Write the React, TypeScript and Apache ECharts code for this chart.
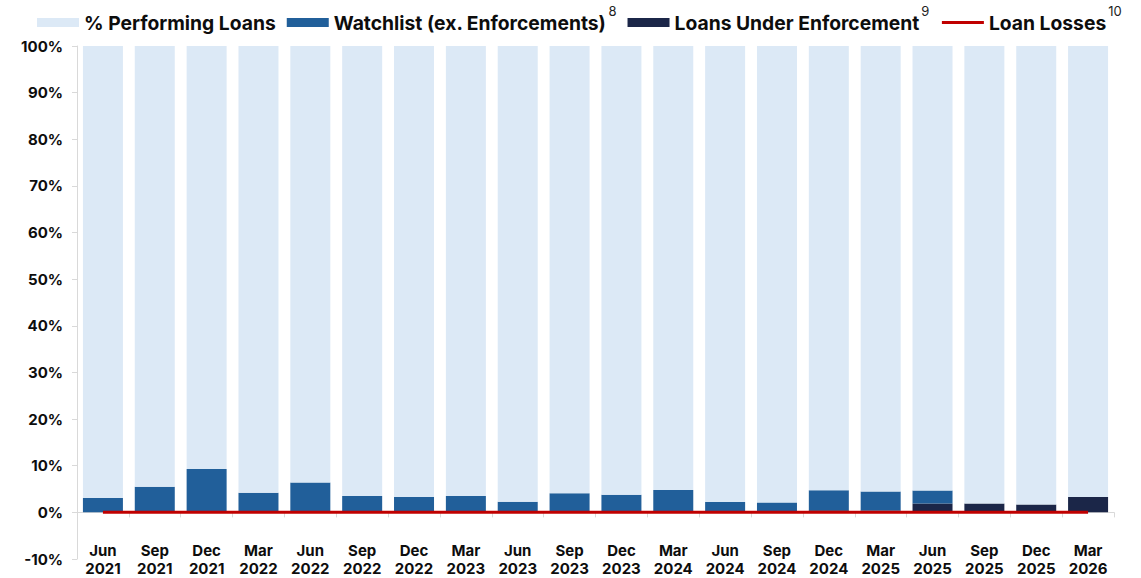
import React, { useEffect, useRef } from "react";
import * as echarts from "echarts";

const categories = [
  "Jun\n2021", "Sep\n2021", "Dec\n2021", "Mar\n2022", "Jun\n2022", "Sep\n2022", "Dec\n2022",
  "Mar\n2023", "Jun\n2023", "Sep\n2023", "Dec\n2023", "Mar\n2024", "Jun\n2024", "Sep\n2024",
  "Dec\n2024", "Mar\n2025", "Jun\n2025", "Sep\n2025", "Dec\n2025", "Mar\n2026",
];
const watchlist = [3.1, 5.5, 9.3, 4.2, 6.4, 3.5, 3.3, 3.5, 2.3, 4.1, 3.8, 4.8, 2.2, 2.1, 4.3, 4.1, 2.8, 0, 0, 0];
const enforcement = [0, 0, 0, 0, 0, 0, 0, 0, 0, 0, 0, 0, 0, 0, 0.45, 0.4, 1.9, 1.9, 1.7, 3.3];
const performing = watchlist.map((w, i) => +(100 - w - enforcement[i]).toFixed(2));
const loanLosses = [0, 0, 0, 0, 0, 0, 0, 0, 0, 0, 0, 0, 0, 0, 0, 0, 0, 0, 0, 0];
const yTicks = { min: -10, max: 100, interval: 10 };

const names = {
  perf: "% Performing Loans",
  watch: "Watchlist (ex. Enforcements)",
  enf: "Loans Under Enforcement",
  loss: "Loan Losses",
};
const sups: Record<string, string> = {
  [names.watch]: "8",
  [names.enf]: "9",
  [names.loss]: "10",
};

const FONT = "Inter, 'Open Sans', sans-serif";

export default function App() {
  const ref = useRef<HTMLDivElement>(null);
  useEffect(() => {
    if (!ref.current) return;
    const chart = echarts.init(ref.current, null, { renderer: "svg" });
    chart.setOption({
      animation: false,
      textStyle: { fontFamily: FONT },
      legend: {
        top: -1,
        left: 32,
        width: 1130,
        itemGap: 11,
        itemWidth: 42,
        itemHeight: 9,
        data: [
          { name: names.perf, icon: "rect" },
          { name: names.watch, icon: "rect" },
          { name: names.enf, icon: "rect" },
          { name: names.loss, itemStyle: { opacity: 0 }, lineStyle: { width: 3, color: "#c00000" } },
        ],
        formatter: (name: string) =>
          sups[name] ? `{n|${name}}{s|${sups[name]}}` : `{p|${name}}`,
        textStyle: {
          fontFamily: FONT,
          rich: {
            n: { fontSize: 19.3, fontWeight: "bold", color: "#0d0d0d", fontFamily: FONT },
            p: { fontSize: 19.3, fontWeight: "bold", color: "#0d0d0d", fontFamily: FONT, padding: [0, 6, 0, 0] },
            s: { fontSize: 13, fontWeight: "normal", color: "#222", fontFamily: FONT, padding: [0, 0, 24, 2] },
          },
        },
      },
      grid: { left: 77, right: 27, top: 46, bottom: 19, containLabel: false },
      xAxis: [
        {
          type: "category",
          data: categories,
          position: "bottom",
          axisLine: { show: false, onZero: false },
          axisTick: { show: false },
          axisLabel: {
            margin: -18,
            fontSize: 15,
            lineHeight: 18,
            fontWeight: "bold",
            color: "#0d0d0d",
            fontFamily: FONT,
            interval: 0,
          },
        },
        {
          type: "category",
          data: categories,
          position: "bottom",
          axisLine: { show: true, onZero: true, lineStyle: { color: "#d9d9d9", width: 1 } },
          axisTick: { show: true, length: 5, alignWithLabel: false, lineStyle: { color: "#d9d9d9" } },
          axisLabel: { show: false },
        },
      ],
      yAxis: {
        type: "value",
        min: yTicks.min,
        max: yTicks.max,
        interval: yTicks.interval,
        splitLine: { show: false },
        axisLine: { show: true, lineStyle: { color: "#d9d9d9" } },
        axisTick: { show: true, length: 5, lineStyle: { color: "#d9d9d9" } },
        axisLabel: {
          formatter: "{value}%",
          fontSize: 15,
          fontWeight: "bold",
          color: "#0d0d0d",
          margin: 14,
          fontFamily: FONT,
        },
      },
      series: [
        {
          name: names.enf,
          type: "bar",
          stack: "total",
          barWidth: 40,
          data: enforcement,
          itemStyle: { color: "#1b2648" },
        },
        {
          name: names.watch,
          type: "bar",
          stack: "total",
          barWidth: 40,
          data: watchlist,
          itemStyle: { color: "#215f9a" },
        },
        {
          name: names.perf,
          type: "bar",
          stack: "total",
          barWidth: 40,
          data: performing,
          itemStyle: { color: "#dce9f6" },
        },
        {
          name: names.loss,
          type: "line",
          data: loanLosses,
          symbol: "none",
          z: 10,
          lineStyle: { color: "#c00000", width: 3 },
          itemStyle: { color: "#c00000" },
        },
      ],
    });
    return () => chart.dispose();
  }, []);
  return (
    <div
      ref={ref}
      style={{ position: "fixed", left: 0, top: 0, width: 1141, height: 578, background: "#fff" }}
    />
  );
}
